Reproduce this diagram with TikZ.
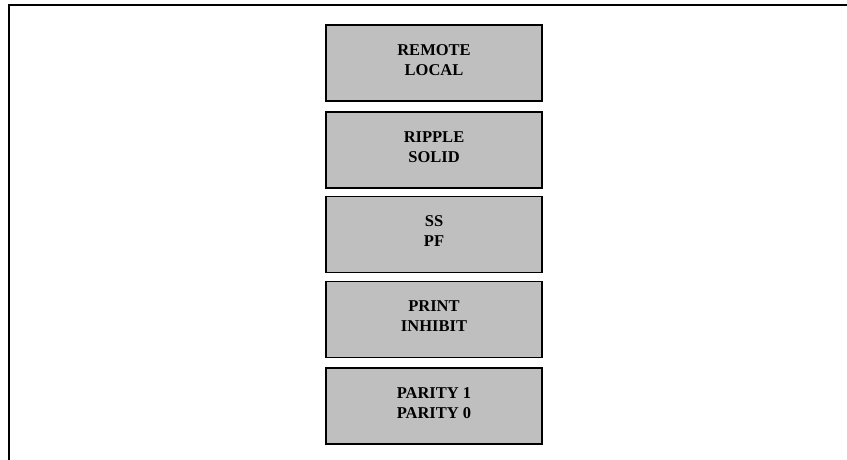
\documentclass[tikz,border=0pt]{standalone}
\usepackage{fontspec}
\setmainfont{Liberation Serif}
\begin{document}
\begin{tikzpicture}[x=1pt,y=-1pt,
  panel/.style={draw=black,line width=1.8pt,fill=black!25,minimum width=216pt,minimum height=76pt,inner sep=0pt},
  paneltext/.style={align=center,font=\fontsize{16.5}{20}\selectfont\bfseries,inner sep=0pt,yshift=3pt},
  frameline/.style={line width=1.4pt,line cap=rect}]
\useasboundingbox (0,0) rectangle (847,459);
\coordinate (tl) at (9,5);
\coordinate (tr) at (847,5);
\coordinate (bl) at (9,459);
\draw[frameline] (bl) -- (tl) -- (tr);
\node[panel] (b1) at (434,63) {};
\node[panel] (b2) at (434,150) {};
\node[panel] (b3) at (434,234.5) {};
\node[panel] (b4) at (434,319.5) {};
\node[panel] (b5) at (434,406) {};
\node[paneltext] (t1) at (b1.center) {REMOTE\\LOCAL};
\node[paneltext] (t2) at (b2.center) {RIPPLE\\SOLID};
\node[paneltext] (t3) at (b3.center) {SS\\PF};
\node[paneltext] (t4) at (b4.center) {PRINT\\INHIBIT};
\node[paneltext] (t5) at (b5.center) {PARITY 1\\PARITY 0};
\end{tikzpicture}
\end{document}
